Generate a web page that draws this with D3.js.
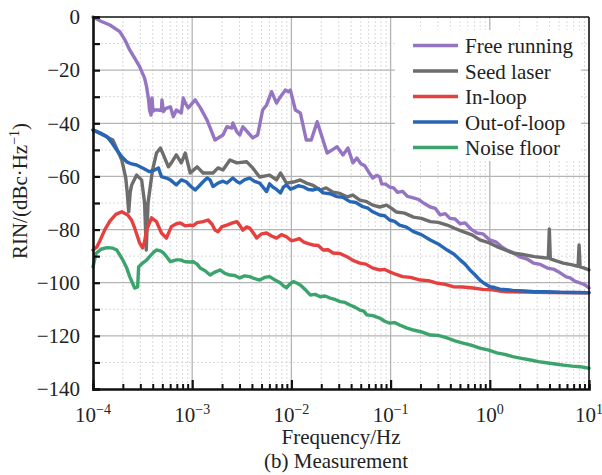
<!DOCTYPE html>
<html>
<head>
<meta charset="utf-8">
<script src="https://cdn.jsdelivr.net/npm/d3@7"></script>
<style>
  body { margin: 0; background: #fff; }
  svg text { font-family: "Liberation Serif", "Tinos", "DejaVu Serif", "Times New Roman", serif; fill: #222; }
</style>
</head>
<body>
<svg id="chart" width="602" height="475"></svg>
<script>
// RIN spectra, [log10(f/Hz), dBc/Hz]
const freeRunning = [
  [-4.00,0.0],[-3.92,-1.6],[-3.83,-3.0],[-3.73,-5.5],[-3.68,-8.5],[-3.63,-12.4],[-3.58,-15.5],[-3.53,-18.7],
  [-3.48,-23.0],[-3.46,-26.2],[-3.44,-31.0],[-3.43,-35.0],[-3.415,-36.9],[-3.405,-30.5],[-3.395,-35.5],
  [-3.38,-35.0],[-3.34,-35.0],[-3.31,-35.2],[-3.305,-31.2],[-3.29,-35.6],[-3.27,-34.5],[-3.22,-33.8],
  [-3.19,-37.5],[-3.16,-35.0],[-3.11,-36.1],[-3.09,-30.5],[-3.07,-32.4],[-3.04,-34.2],[-2.97,-31.2],
  [-2.92,-34.0],[-2.85,-38.8],[-2.80,-43.5],[-2.77,-46.3],[-2.69,-44.4],[-2.65,-41.3],[-2.60,-41.8],
  [-2.59,-39.9],[-2.55,-43.2],[-2.52,-44.4],[-2.49,-41.3],[-2.39,-45.5],[-2.34,-44.4],[-2.29,-35.0],
  [-2.25,-33.1],[-2.20,-28.1],[-2.15,-32.4],[-2.11,-30.0],[-2.06,-27.5],[-2.03,-28.1],[-2.01,-27.5],
  [-1.96,-35.0],[-1.91,-36.1],[-1.85,-46.3],[-1.80,-46.3],[-1.74,-39.4],[-1.64,-51.2],[-1.58,-49.8],
  [-1.54,-48.8],[-1.48,-51.9],[-1.43,-49.3],[-1.38,-54.9],[-1.34,-53.1],[-1.30,-55.2],[-1.26,-56.0],
  [-1.22,-58.4],[-1.18,-60.6],[-1.14,-59.6],[-1.11,-60.2],[-1.09,-62.8],[-1.05,-62.9],[-1.01,-64.0],
  [-0.97,-64.3],[-0.93,-66.0],[-0.88,-65.6],[-0.83,-67.5],[-0.77,-68.1],[-0.72,-68.6],[-0.66,-70.2],
  [-0.60,-71.5],[-0.55,-72.0],[-0.50,-74.5],[-0.45,-74.0],[-0.40,-75.8],[-0.35,-76.0],[-0.30,-77.8],
  [-0.25,-77.5],[-0.19,-79.8],[-0.13,-81.3],[-0.07,-81.6],[0.00,-83.9],[0.06,-84.6],[0.12,-86.5],
  [0.17,-87.7],[0.23,-88.6],[0.30,-90.3],[0.37,-91.0],[0.44,-92.6],[0.51,-93.1],[0.58,-94.5],
  [0.65,-95.0],[0.71,-96.3],[0.77,-97.8],[0.81,-98.2],[0.86,-99.5],[0.91,-100.1],[0.96,-100.8],[1.00,-102.0]
];
const seedLaser = [
  [-4.00,-42.5],[-3.90,-44.4],[-3.80,-46.3],[-3.71,-53.8],[-3.67,-60.5],[-3.655,-66.0],[-3.64,-73.3],
  [-3.625,-66.0],[-3.61,-63.2],[-3.56,-59.5],[-3.51,-61.3],[-3.48,-69.9],[-3.463,-87.7],[-3.445,-69.9],
  [-3.40,-57.6],[-3.36,-51.2],[-3.32,-49.3],[-3.29,-51.9],[-3.24,-56.4],[-3.21,-54.9],[-3.16,-51.9],
  [-3.11,-54.9],[-3.07,-51.2],[-3.02,-58.7],[-2.95,-56.4],[-2.89,-58.7],[-2.82,-58.7],[-2.79,-58.7],
  [-2.74,-56.8],[-2.69,-57.6],[-2.62,-53.8],[-2.55,-54.9],[-2.45,-54.5],[-2.39,-56.8],[-2.32,-60.2],
  [-2.22,-59.5],[-2.15,-61.3],[-2.11,-58.7],[-2.05,-62.5],[-1.98,-62.1],[-1.91,-61.3],[-1.85,-62.5],
  [-1.78,-63.4],[-1.71,-65.1],[-1.65,-64.3],[-1.58,-65.9],[-1.51,-66.4],[-1.44,-67.7],[-1.38,-67.0],
  [-1.31,-68.9],[-1.24,-69.5],[-1.18,-70.8],[-1.11,-71.5],[-1.04,-70.8],[-0.99,-72.0],[-0.94,-73.4],
  [-0.86,-73.8],[-0.77,-75.3],[-0.69,-75.8],[-0.60,-77.0],[-0.52,-77.3],[-0.43,-78.3],[-0.35,-79.6],
  [-0.27,-80.8],[-0.18,-82.0],[-0.10,-83.9],[-0.02,-84.8],[0.07,-86.4],[0.15,-87.6],[0.23,-88.8],
  [0.33,-89.4],[0.45,-90.2],[0.55,-90.6],[0.59,-90.7],[0.60,-79.8],[0.61,-91.0],[0.67,-91.8],
  [0.74,-92.6],[0.82,-93.2],[0.89,-93.8],[0.90,-85.8],[0.91,-94.0],[0.96,-94.6],[1.00,-95.2]
];
const inLoop = [
  [-4.00,-87.7],[-3.96,-86.5],[-3.93,-84.2],[-3.88,-80.0],[-3.83,-76.8],[-3.77,-74.3],[-3.71,-73.3],
  [-3.65,-74.5],[-3.61,-76.5],[-3.58,-79.4],[-3.53,-85.0],[-3.50,-86.9],[-3.48,-84.5],[-3.46,-80.2],
  [-3.41,-75.6],[-3.36,-77.0],[-3.31,-81.3],[-3.26,-83.2],[-3.21,-78.9],[-3.16,-77.8],[-3.12,-77.5],
  [-3.07,-78.6],[-3.02,-78.3],[-2.99,-78.5],[-2.95,-77.4],[-2.89,-77.0],[-2.84,-76.4],[-2.80,-78.0],
  [-2.77,-80.2],[-2.74,-80.8],[-2.70,-78.9],[-2.65,-78.3],[-2.60,-77.6],[-2.55,-77.0],[-2.52,-78.4],
  [-2.49,-80.2],[-2.45,-79.0],[-2.42,-79.4],[-2.38,-81.5],[-2.35,-83.2],[-2.30,-81.6],[-2.25,-81.3],
  [-2.20,-82.4],[-2.15,-83.2],[-2.10,-81.9],[-2.05,-82.7],[-2.00,-84.2],[-1.96,-83.9],[-1.92,-83.4],
  [-1.88,-84.6],[-1.83,-85.3],[-1.78,-85.8],[-1.73,-86.0],[-1.68,-87.7],[-1.63,-87.6],[-1.58,-88.8],
  [-1.51,-89.0],[-1.44,-90.2],[-1.38,-91.6],[-1.31,-92.6],[-1.25,-93.0],[-1.18,-94.5],[-1.11,-95.2],
  [-1.06,-95.0],[-1.01,-95.9],[-0.95,-96.8],[-0.88,-97.7],[-0.80,-98.0],[-0.70,-99.0],[-0.62,-99.2],
  [-0.54,-100.1],[-0.45,-100.6],[-0.37,-101.5],[-0.27,-101.6],[-0.17,-102.0],[-0.07,-102.5],
  [0.03,-102.7],[0.10,-103.1],[0.17,-103.4],[0.35,-103.5],[0.60,-103.7],[1.00,-103.8]
];
const outOfLoop = [
  [-4.00,-42.5],[-3.93,-43.6],[-3.86,-45.0],[-3.81,-47.3],[-3.76,-50.1],[-3.71,-52.6],[-3.66,-54.5],
  [-3.61,-55.3],[-3.56,-55.7],[-3.50,-56.8],[-3.43,-58.2],[-3.38,-57.6],[-3.34,-56.8],[-3.31,-60.1],
  [-3.26,-60.6],[-3.22,-61.3],[-3.16,-63.2],[-3.11,-61.3],[-3.06,-62.0],[-3.01,-63.9],[-2.97,-65.1],
  [-2.93,-63.6],[-2.89,-62.0],[-2.85,-60.6],[-2.82,-61.3],[-2.79,-63.8],[-2.74,-62.5],[-2.69,-61.8],
  [-2.65,-62.5],[-2.59,-60.6],[-2.55,-61.9],[-2.52,-62.5],[-2.47,-61.2],[-2.42,-60.6],[-2.37,-61.9],
  [-2.32,-62.5],[-2.28,-64.3],[-2.25,-65.7],[-2.22,-62.8],[-2.19,-63.9],[-2.15,-64.9],[-2.11,-66.2],
  [-2.08,-64.0],[-2.05,-63.2],[-2.01,-64.8],[-1.98,-64.4],[-1.93,-63.5],[-1.88,-63.9],[-1.83,-64.9],
  [-1.78,-65.1],[-1.73,-64.6],[-1.68,-66.2],[-1.61,-66.5],[-1.54,-67.6],[-1.48,-67.9],[-1.41,-69.5],
  [-1.35,-69.8],[-1.28,-71.4],[-1.23,-71.9],[-1.18,-73.3],[-1.11,-74.5],[-1.06,-74.8],[-1.01,-76.4],
  [-0.96,-76.9],[-0.91,-78.3],[-0.84,-79.1],[-0.77,-80.8],[-0.69,-81.9],[-0.60,-83.9],[-0.52,-85.4],
  [-0.43,-87.7],[-0.36,-89.3],[-0.30,-91.4],[-0.25,-93.0],[-0.20,-95.2],[-0.15,-97.0],[-0.10,-99.0],
  [-0.05,-100.4],[0.00,-101.5],[0.05,-101.8],[0.10,-102.4],[0.17,-102.6],[0.23,-102.9],[0.35,-103.1],
  [0.45,-103.4],[0.57,-103.4],[0.70,-103.6],[0.85,-103.7],[1.00,-103.8]
];
const noiseFloor = [
  [-4.00,-94.0],[-3.97,-89.0],[-3.92,-87.4],[-3.86,-86.8],[-3.80,-87.0],[-3.76,-87.7],[-3.70,-91.4],
  [-3.66,-94.5],[-3.63,-97.7],[-3.58,-102.0],[-3.55,-101.6],[-3.54,-94.1],[-3.50,-92.6],[-3.46,-91.5],
  [-3.43,-90.2],[-3.39,-88.6],[-3.36,-87.7],[-3.32,-88.0],[-3.29,-88.8],[-3.25,-90.6],[-3.22,-92.1],
  [-3.16,-91.4],[-3.12,-91.4],[-3.07,-92.1],[-3.02,-92.2],[-2.99,-92.1],[-2.95,-93.0],[-2.92,-94.5],
  [-2.87,-95.5],[-2.82,-97.1],[-2.77,-96.0],[-2.72,-95.2],[-2.67,-96.5],[-2.62,-97.1],[-2.57,-97.3],
  [-2.52,-98.2],[-2.47,-97.4],[-2.42,-97.7],[-2.37,-98.5],[-2.32,-99.0],[-2.27,-98.0],[-2.22,-97.7],
  [-2.16,-99.1],[-2.11,-100.1],[-2.08,-101.2],[-2.05,-101.9],[-2.01,-100.3],[-1.98,-99.6],[-1.94,-100.2],
  [-1.91,-100.9],[-1.86,-102.6],[-1.81,-104.6],[-1.76,-104.4],[-1.71,-105.3],[-1.66,-105.0],[-1.61,-105.8],
  [-1.56,-106.3],[-1.51,-107.1],[-1.46,-107.4],[-1.41,-108.4],[-1.36,-109.2],[-1.31,-110.3],[-1.27,-110.7],
  [-1.24,-112.1],[-1.18,-112.4],[-1.11,-113.3],[-1.06,-114.5],[-1.01,-115.2],[-0.96,-115.0],[-0.91,-115.9],
  [-0.84,-117.0],[-0.77,-117.8],[-0.68,-118.6],[-0.60,-119.7],[-0.52,-119.8],[-0.43,-120.8],[-0.35,-121.9],
  [-0.27,-122.7],[-0.18,-123.6],[-0.10,-124.6],[-0.01,-125.4],[0.07,-126.4],[0.15,-127.0],[0.23,-127.8],
  [0.32,-128.5],[0.41,-129.1],[0.49,-129.7],[0.57,-130.1],[0.66,-130.6],[0.74,-131.0],[0.83,-131.4],
  [0.91,-131.6],[1.00,-132.2]
];

const seriesNames = ['Free running', 'Seed laser', 'In-loop', 'Out-of-loop', 'Noise floor'];
const seriesColors = ['#9575c2', '#6d6d6d', '#e5403f', '#2766b5', '#3ba46c'];
const seriesData = [freeRunning, seedLaser, inLoop, outOfLoop, noiseFloor];
const decadeExps = [-4, -3, -2, -1, 0, 1];
const yTicks = [0, -20, -40, -60, -80, -100, -120, -140];

(function () {
  const M = { l: 93, r: 589, t: 17, b: 389 };
  const FONT = '"Liberation Serif", "Tinos", "DejaVu Serif", "Times New Roman", serif';
  const svg = d3.select('#chart');
  const x = d3.scaleLog().domain([1e-4, 10]).range([M.l, M.r]);
  const y = d3.scaleLinear().domain([-140, 0]).range([M.b, M.t]);
  const minorF = [];
  decadeExps.slice(0, -1).forEach(e => { for (let k = 2; k <= 9; k++) minorF.push(k * Math.pow(10, e)); });
  const minorY = d3.range(-130, 0, 20);

  // grid: dashed minor, solid major
  const grid = svg.append('g');
  grid.selectAll('.gvx').data(minorF).join('line')
    .attr('x1', d => x(d)).attr('x2', d => x(d)).attr('y1', M.t).attr('y2', M.b)
    .attr('stroke', '#dadada').attr('stroke-width', 1).attr('stroke-dasharray', '2,2');
  grid.selectAll('.gvy').data(minorY).join('line')
    .attr('x1', M.l).attr('x2', M.r).attr('y1', d => y(d)).attr('y2', d => y(d))
    .attr('stroke', '#dadada').attr('stroke-width', 1).attr('stroke-dasharray', '2,2');
  grid.selectAll('.gmx').data(decadeExps.slice(1, -1)).join('line')
    .attr('x1', e => x(Math.pow(10, e))).attr('x2', e => x(Math.pow(10, e))).attr('y1', M.t).attr('y2', M.b)
    .attr('stroke', '#b5b5b5').attr('stroke-width', 1.3);
  grid.selectAll('.gmy').data(yTicks.slice(1, -1)).join('line')
    .attr('x1', M.l).attr('x2', M.r).attr('y1', d => y(d)).attr('y2', d => y(d))
    .attr('stroke', '#b5b5b5').attr('stroke-width', 1.3);

  // legend box hides the grid behind it
  const lg = svg.append('g');
  lg.append('rect').attr('x', 395).attr('y', 30).attr('width', 186).attr('height', 131).attr('fill', '#fff');

  // curves
  const line = d3.line().x(d => x(Math.pow(10, d[0]))).y(d => y(d[1]));
  svg.append('g').selectAll('path').data(seriesData).join('path')
    .attr('d', line).attr('fill', 'none')
    .attr('stroke', (d, i) => seriesColors[i]).attr('stroke-width', 3.4)
    .attr('stroke-linejoin', 'round').attr('stroke-linecap', 'round');

  // legend entries
  seriesNames.forEach((n, i) => {
    const cy = 45.5 + i * 25.5;
    lg.append('line').attr('x1', 413).attr('x2', 458).attr('y1', cy).attr('y2', cy)
      .attr('stroke', seriesColors[i]).attr('stroke-width', 3.4);
    lg.append('text').attr('x', 465).attr('y', cy + 7.5).attr('font-size', 21).text(n);
  });

  // frame
  svg.append('line').attr('x1', M.l).attr('x2', M.r).attr('y1', M.t).attr('y2', M.t).attr('stroke', '#111').attr('stroke-width', 1.6);
  svg.append('line').attr('x1', M.r).attr('x2', M.r).attr('y1', M.t).attr('y2', M.b).attr('stroke', '#111').attr('stroke-width', 1.6);

  // y axis: ticks every 10 dB, labels every 20
  const ya = svg.append('g').attr('transform', `translate(${M.l},0)`)
    .call(d3.axisLeft(y).tickValues(d3.range(-140, 1, 10)).tickSize(-7).tickPadding(13)
      .tickFormat(d => d % 20 === 0 ? (d < 0 ? '\u2212' + (-d) : d) : ''));
  ya.attr('font-family', FONT);
  ya.select('.domain').attr('stroke', '#111').attr('stroke-width', 2.6);
  ya.selectAll('.tick line').attr('stroke', '#111').attr('stroke-width', 2.2);
  ya.selectAll('text').attr('font-size', 21).attr('fill', '#222');

  // x axis: minor ticks + decade ticks
  const xa = svg.append('g').attr('transform', `translate(0,${M.b})`)
    .call(d3.axisBottom(x).tickValues(minorF).tickSize(-5).tickFormat(''));
  xa.select('.domain').attr('stroke', '#111').attr('stroke-width', 2.6);
  xa.selectAll('.tick line').attr('stroke', '#111').attr('stroke-width', 2);
  const xm = svg.append('g').attr('transform', `translate(0,${M.b})`)
    .call(d3.axisBottom(x).tickValues(decadeExps.map(e => Math.pow(10, e))).tickSize(-9).tickFormat(''));
  xm.select('.domain').remove();
  xm.selectAll('.tick line').attr('stroke', '#111').attr('stroke-width', 2.2);

  decadeExps.forEach(e => {
    const t = svg.append('text').attr('x', x(Math.pow(10, e))).attr('y', 422)
      .attr('text-anchor', 'middle').attr('font-size', 21);
    t.append('tspan').text('10');
    t.append('tspan').attr('dy', -8).attr('font-size', 14).text(e < 0 ? '\u2212' + (-e) : e);
  });

  // axis titles
  svg.append('text').attr('x', (M.l + M.r) / 2).attr('y', 444).attr('text-anchor', 'middle')
    .attr('font-size', 21).text('Frequency/Hz');
  svg.append('text').attr('x', 336).attr('y', 468).attr('text-anchor', 'middle')
    .attr('font-size', 21).text('(b) Measurement');
  const yl = svg.append('text').attr('transform', 'translate(27,191) rotate(-90)')
    .attr('text-anchor', 'middle').attr('font-size', 21);
  yl.append('tspan').text('RIN/(dBc\u00b7Hz');
  yl.append('tspan').attr('dy', -8).attr('font-size', 14).text('\u22121');
  yl.append('tspan').attr('dy', 8).text(')');
})();
</script>
</body>
</html>
